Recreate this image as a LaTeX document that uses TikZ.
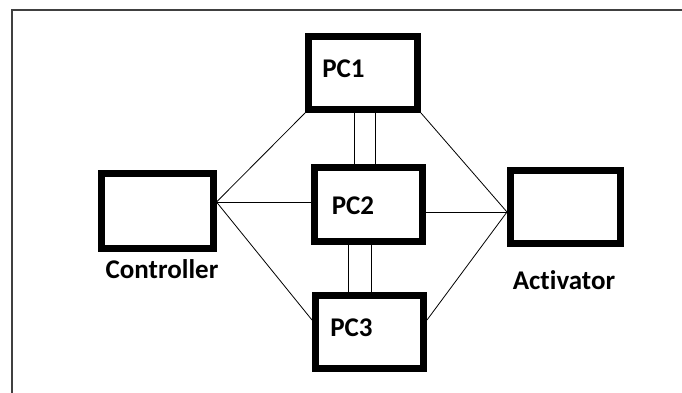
\documentclass[tikz,border=0pt]{standalone}
\usepackage{fontspec}
\setmainfont{Carlito}[Ligatures=NoCommon]
\usetikzlibrary{calc}
\begin{document}
\begin{tikzpicture}[x=1pt,y=-1pt,
  box/.style={draw=black,line width=7pt,fill=white,inner sep=0pt},
  lbl/.style={font=\fontsize{27}{31}\selectfont\bfseries,inner sep=0pt,anchor=base},
  link/.style={draw=black,line width=0.8pt},
  frame/.style={draw=black!75,line width=2pt}]
\useasboundingbox (0,0) rectangle (682,393);
\fill[white] (0,0) rectangle (682,393);
\draw[frame] (12,393) -- (12,10) -- (682,10);
% boxes
\node[box,minimum width=109pt,minimum height=73pt] (pc1) at (363,73) {};
\node[box,minimum width=108pt,minimum height=74pt] (pc2) at (368.5,204.5) {};
\node[box,minimum width=108pt,minimum height=73pt] (pc3) at (369.5,332) {};
\node[box,minimum width=112pt,minimum height=75pt] (ctrl) at (157,211) {};
\node[box,minimum width=110pt,minimum height=73pt] (act) at (565.5,207) {};
% labels
\node[lbl] (t1) at (343.5,78) {PC1};
\node[lbl] (t2) at (353,214) {PC2};
\node[lbl] (t3) at (351.5,336) {PC3};
\node[lbl] (tc) at (162,278) {Controller};
\node[lbl] (ta) at (564,289.5) {Activator};
% junctions
\coordinate (cj) at ([yshift=9pt]ctrl.east);
\coordinate (aj) at ([yshift=-5pt]act.west);
% connectors
\draw[link] (cj) -- (pc1.south west);
\draw[link] (cj) -- (cj -| pc2.west);
\draw[link] (cj) -- ([yshift=12pt]pc3.west);
\draw[link] (aj) -- (pc1.south east);
\draw[link] (aj) -- (aj -| pc2.east);
\draw[link] (aj) -- ([yshift=12pt]pc3.east);
\draw[link] ([xshift=-9pt]pc1.south) -- ([xshift=-9pt]pc1.south |- pc2.north);
\draw[link] ([xshift=12pt]pc1.south) -- ([xshift=12pt]pc1.south |- pc2.north);
\draw[link] ([xshift=-20.5pt]pc2.south) -- ([xshift=-20.5pt]pc2.south |- pc3.north);
\draw[link] ([xshift=2.5pt]pc2.south) -- ([xshift=2.5pt]pc2.south |- pc3.north);
\end{tikzpicture}
\end{document}
